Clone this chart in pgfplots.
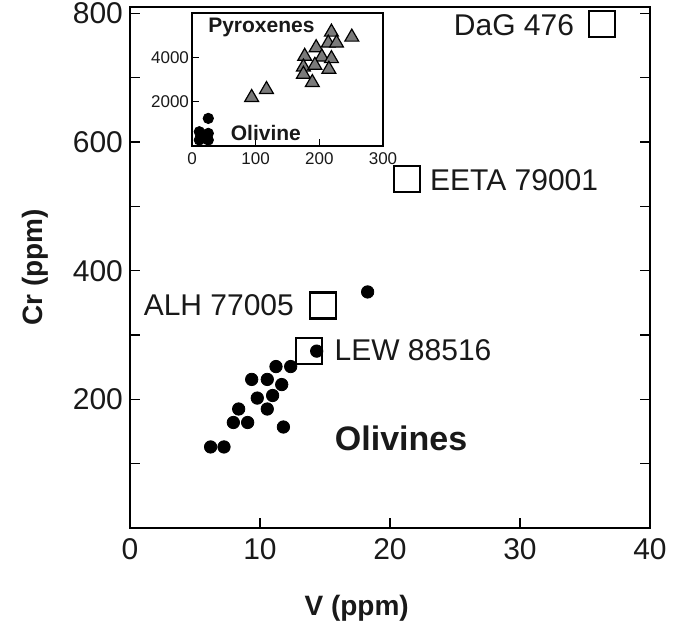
\documentclass[border=0pt]{standalone}
\usepackage{pgfplots}
\pgfplotsset{compat=1.18}
\usepackage{fontspec}
\setmainfont{Liberation Sans}
\definecolor{trigray}{RGB}{122,122,122}
\definecolor{txt}{RGB}{25,25,25}
\begin{document}
\begin{tikzpicture}
\useasboundingbox (-65pt,-51pt) rectangle (277.5pt,264pt);
\begin{axis}[
  at={(0,0)}, anchor=south west,
  scale only axis, width=260pt, height=260.5pt,
  xmin=0, xmax=40, ymin=0, ymax=810,
  xtick={0,10,20,30,40},
  ytick={200,400,600,800},
  minor ytick={100,300,500,700},
  tick align=inside, xtick pos=left,
  major tick length=5pt, minor tick length=5pt,
  tick style={black, line width=0.6pt},
  axis line style={black, line width=0.75pt},
  ticklabel style={font=\fontsize{15}{17}\selectfont, text=txt},
  xticklabel style={yshift=-1.5pt},
  /pgf/number format/assume math mode=true,
  /pgf/number format/1000 sep={},
  xlabel={V (ppm)}, ylabel={Cr (ppm)},
  label style={font=\bfseries\fontsize{14}{16}\selectfont, text=txt},
  xlabel style={at={(axis description cs:0.436,-0.154)}, anchor=center},
  ylabel style={at={(axis description cs:-0.183,0.5)}, anchor=center},
]
% olivines
\addplot[only marks, mark=*, mark size=3.1pt, black] coordinates {
 (14.36,275) (11.23,251) (12.36,251) (9.36,231) (10.56,231) (11.67,223)
 (10.97,206) (9.79,202) (10.56,185) (8.36,185) (7.95,164) (9.05,164)
 (11.8,157) (6.2,126) (7.23,126) (18.28,367)
};
% meteorites
\addplot[only marks, mark=square, mark size=6.5pt, black, line width=1.1pt] coordinates {
 (36.3,783) (21.3,542) (14.87,346) (13.76,275)
};
\node[anchor=east, font=\fontsize{15}{18}\selectfont, text=txt] at (axis cs:34.7,782) {DaG 476};
\node[anchor=west, font=\fontsize{15}{18}\selectfont, text=txt] at (axis cs:22.55,541) {EETA 79001};
\node[anchor=east, font=\fontsize{15}{18}\selectfont, text=txt] at (axis cs:13.15,347) {ALH 77005};
\node[anchor=west, font=\fontsize{15}{18}\selectfont, text=txt] at (axis cs:15.2,277) {LEW 88516};
\node[font=\bfseries\fontsize{17}{20}\selectfont, text=txt] at (axis cs:20.85,140) {Olivines};
\end{axis}
\begin{axis}[
  at={(31pt,191pt)}, anchor=south west,
  scale only axis, width=95.5pt, height=66.5pt,
  xmin=0, xmax=300, ymin=0, ymax=6000,
  xtick={0,100,200,300}, ytick={2000,4000},
  tick align=inside, xtick pos=left, ytick pos=left,
  major tick length=3.5pt,
  tick style={black, line width=0.6pt},
  axis line style={black, line width=1pt},
  axis background/.style={fill=white},
  scaled ticks=false,
  ticklabel style={font=\fontsize{8.5}{10}\selectfont, text=txt},
  yticklabel style={xshift=2pt},
  /pgf/number format/assume math mode=true,
  /pgf/number format/1000 sep={},
]
\addplot[only marks, mark=triangle*, mark size=4pt, draw=black, fill=trigray, line width=0.6pt] coordinates {
 (93.7,2189) (117,2548) (219,5137) (251,4912) (214,4643) (227,4643)
 (195,4436) (177,4045) (204,4013) (219,3942) (175,3564) (193,3640)
 (215,3461) (175,3236) (189,2863)
};
\addplot[only marks, mark=*, mark size=2.6pt, black] coordinates {
 (25.6,1245) (11.5,643) (25.6,569) (11.5,270) (25.6,270) (18,450)
};
\node[font=\bfseries\fontsize{10.5}{12}\selectfont, text=txt] at (axis cs:109,5350) {Pyroxenes};
\node[font=\bfseries\fontsize{10.5}{12}\selectfont, text=txt] at (axis cs:116,585) {Olivine};
\end{axis}
\end{tikzpicture}
\end{document}
